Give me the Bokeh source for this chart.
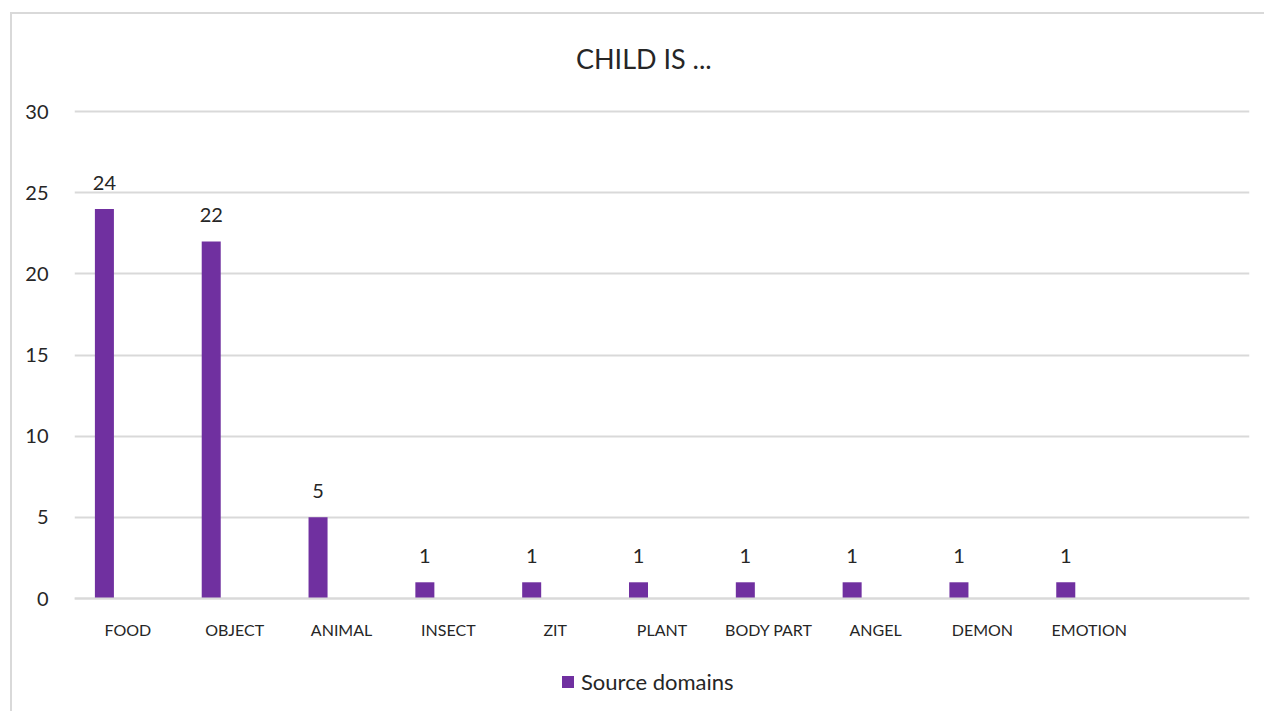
from bokeh.plotting import figure
from bokeh.models import (ColumnDataSource, FactorRange, Range1d, LabelSet,
                          Label, Legend, LegendItem, FixedTicker)
from bokeh.core.properties import value
from bokeh.transform import dodge
from bokeh.embed import file_html
from bokeh.resources import INLINE

# Source domains for the metaphor "CHILD IS ..."
categories = ["FOOD", "OBJECT", "ANIMAL", "INSECT", "ZIT", "PLANT",
              "BODY PART", "ANGEL", "DEMON", "EMOTION"]
counts = [24, 22, 5, 1, 1, 1, 1, 1, 1, 1]
series_name = "Source domains"
chart_title = "CHILD IS ..."
y_ticks = [0, 5, 10, 15, 20, 25, 30]

FONT = "Lato"
PURPLE = "#7030A0"
GRID = "#d9d9d9"
TEXT = "#262626"

source = ColumnDataSource(dict(cat=categories, val=counts,
                               lab=[str(v) for v in counts]))

# an extra empty slot at the end of the category axis
factors = categories + [""]

# the frame fills the whole chart area: the category axis is pinned at y = 0,
# and the title and legend are drawn inside the frame above and below the data
p = figure(width=1254, height=699,
           x_range=FactorRange(factors=factors, range_padding=0),
           y_range=Range1d(-7.084, 35.98),
           output_backend="svg", toolbar_location=None,
           min_border_left=62, min_border_right=17,
           min_border_top=0, min_border_bottom=0)
p.styles = {"margin-left": "10px", "margin-top": "12px",
            "border-left": "2px solid #d9d9d9",
            "border-top": "2px solid #d9d9d9"}
p.outline_line_color = None
p.background_fill_color = "white"
p.border_fill_color = "white"

r = p.vbar(x=dodge("cat", -0.22, range=p.x_range), top="val", width=0.178,
           source=source, fill_color=PURPLE, line_color=None)

labels = LabelSet(x=dodge("cat", -0.22, range=p.x_range), y="val", text="lab",
                  source=source, text_align="center", text_baseline="bottom",
                  y_offset=19, text_font=value(FONT), text_font_size=value("20px"),
                  text_color=TEXT)
p.add_layout(labels)

title = Label(x=5.33, y=33.27, text=chart_title, text_align="center",
              text_baseline="middle", text_font=FONT, text_font_size="27px",
              text_color=TEXT)
p.add_layout(title)

# axes
p.yaxis.ticker = FixedTicker(ticks=y_ticks)
p.yaxis.axis_line_color = None
p.yaxis.major_tick_line_color = None
p.yaxis.minor_tick_line_color = None
p.yaxis.major_label_standoff = 20
p.yaxis.major_label_text_font = FONT
p.yaxis.major_label_text_font_size = "20px"
p.yaxis.major_label_text_color = TEXT

p.xaxis.fixed_location = 0
p.xaxis.axis_line_color = GRID
p.xaxis.axis_line_width = 2
p.xaxis.major_tick_line_color = None
p.xaxis.minor_tick_line_color = None
p.xaxis.major_label_standoff = 15
p.xaxis.major_label_text_font = FONT
p.xaxis.major_label_text_font_size = "16px"
p.xaxis.major_label_text_color = TEXT

p.xgrid.grid_line_color = None
p.ygrid.ticker = FixedTicker(ticks=y_ticks)
p.ygrid.grid_line_color = GRID
p.ygrid.grid_line_width = 2

legend = Legend(items=[LegendItem(label=series_name, renderers=[r])],
                location=(486, 18), orientation="horizontal",
                border_line_color=None, background_fill_alpha=0,
                label_text_font=FONT, label_text_font_size="22px",
                label_text_color=TEXT, glyph_width=15, glyph_height=15,
                label_standoff=6, padding=0, margin=0)
p.add_layout(legend)

open("out.html", "w").write(file_html(p, INLINE))
